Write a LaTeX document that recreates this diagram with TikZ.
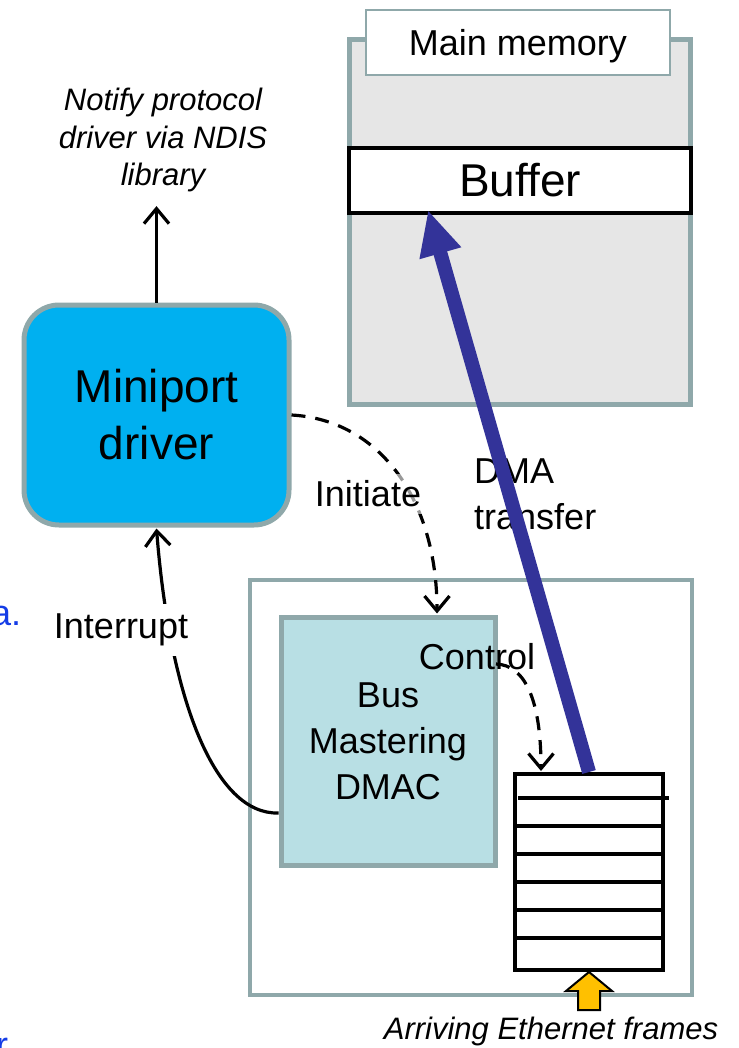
\documentclass[tikz,border=0pt]{standalone}
\usepackage{fontspec}
\setmainfont{Liberation Sans}
\usetikzlibrary{arrows.meta,positioning}
\definecolor{memgray}{RGB}{230,230,230}
\definecolor{boxedge}{RGB}{143,168,170}
\definecolor{miniblue}{RGB}{0,176,240}
\definecolor{dmacblue}{RGB}{184,223,228}
\definecolor{dmablue}{RGB}{51,51,153}
\definecolor{frameyellow}{RGB}{255,192,0}
\definecolor{slideblue}{RGB}{20,60,230}

\tikzset{
    txt/.style={font=\fontsize{36}{46}\selectfont, inner sep=0pt},
    bigtxt/.style={font=\fontsize{46}{57}\selectfont},
    note/.style={font=\fontsize{31}{37.5}\selectfont\itshape, inner sep=0pt},
    grayframe/.style={draw=boxedge, line width=5pt},
    arr/.style={line width=3.2pt, -{Straight Barb[length=15pt,width=25pt]}},
    dasharr/.style={arr, dash pattern=on 14pt off 10pt}
}

\begin{document}
\begin{tikzpicture}[x=1pt,y=-1pt]
    \useasboundingbox (0,0) rectangle (738,1048);

    % Main memory with buffer
    \node[grayframe, fill=memgray, minimum width=341pt, minimum height=364pt] (mem) at (519.5,222) {};
    \node[draw=boxedge, line width=1.5pt, fill=white, minimum width=304pt, minimum height=65pt, txt, text depth=0pt] (memlabel) at (518,42.5) {Main memory};
    \node[draw=black, line width=4pt, fill=white, minimum width=342pt, minimum height=65pt, bigtxt] (buffer) at (520,180.5) {Buffer};

    % Miniport driver
    \node[grayframe, fill=miniblue, rounded corners=35pt, minimum width=265pt, minimum height=220pt, bigtxt, align=center] (miniport) at (156.5,415) {Miniport\\driver};
    \node[note, align=center] (notify) at (163,140) {Notify protocol\\driver via NDIS\\library};
    \draw[arr, shorten >=14pt] (miniport.north) -- (miniport.north |- notify.south);

    % Network adapter
    \node[draw=boxedge, line width=4pt, fill=white, minimum width=442pt, minimum height=415pt] (nic) at (471,787.5) {};
    \node[grayframe, fill=dmacblue, minimum width=214pt, minimum height=248pt, txt, align=center] (dmac) at (388,741) {Bus\\Mastering\\DMAC};

    % Receive FIFO
    \node[draw=black, line width=4pt, fill=white, minimum width=148pt, minimum height=196pt] (fifo) at (589,872) {};
    \draw[line width=4pt] ([yshift=-26pt,xshift=5pt]fifo.north west) -- ([yshift=-26pt,xshift=4pt]fifo.north east);
    \foreach \i in {2,...,6}
        \draw[line width=4pt] ([yshift=-28*\i+2]fifo.north west) -- ([yshift=-28*\i+2]fifo.north east);

    % Incoming frames
    \draw[line width=2pt, fill=frameyellow] (fifo.south) -- ++(23,19) -- ++(-12,0) -- ++(0,19) -- ++(-22,0) -- ++(0,-19) -- ++(-12,0) -- cycle;
    \node[note] (frames) at (551,1031) {Arriving Ethernet frames};

    % Interrupt
    \draw[arr] ([yshift=-72pt]dmac.west) .. controls (215,815) and (170,700) .. ([yshift=-1pt]miniport.south);
    \node[txt, fill=white, inner xsep=2pt, inner ysep=10pt] (irq) at (121,630) {Interrupt};

    % Initiate
    \draw[dasharr] (miniport.east) .. controls (380,420) and (437,500) .. ([xshift=49pt,yshift=1pt]dmac.north);
    \node[txt, fill=white, fill opacity=0.6, text opacity=1, inner sep=7pt] (init) at (368,494) {Initiate};

    % Control
    \node[txt] (ctl) at (477,657) {Control};
    \coordinate (ctlstart) at (496,664);
    \draw[dasharr] (ctlstart) .. controls (525,665) and (541,700) .. ([xshift=-48pt,yshift=1pt]fifo.north);

    % DMA transfer
    \node[txt, anchor=west, align=left] (dma) at (474,494) {DMA\\transfer};
    \draw[dmablue, line width=14pt, -{Triangle[length=45pt,width=40pt]}] (fifo.north) -- ([xshift=-92pt,yshift=5pt]buffer.south);

    % slide text cut off at the left edge
    \node[txt, text=slideblue, anchor=base west] (cuta) at (-9,625) {a.};
    \node[txt, text=slideblue, anchor=base west] (cutr) at (-4,1057) {r};
\end{tikzpicture}
\end{document}
